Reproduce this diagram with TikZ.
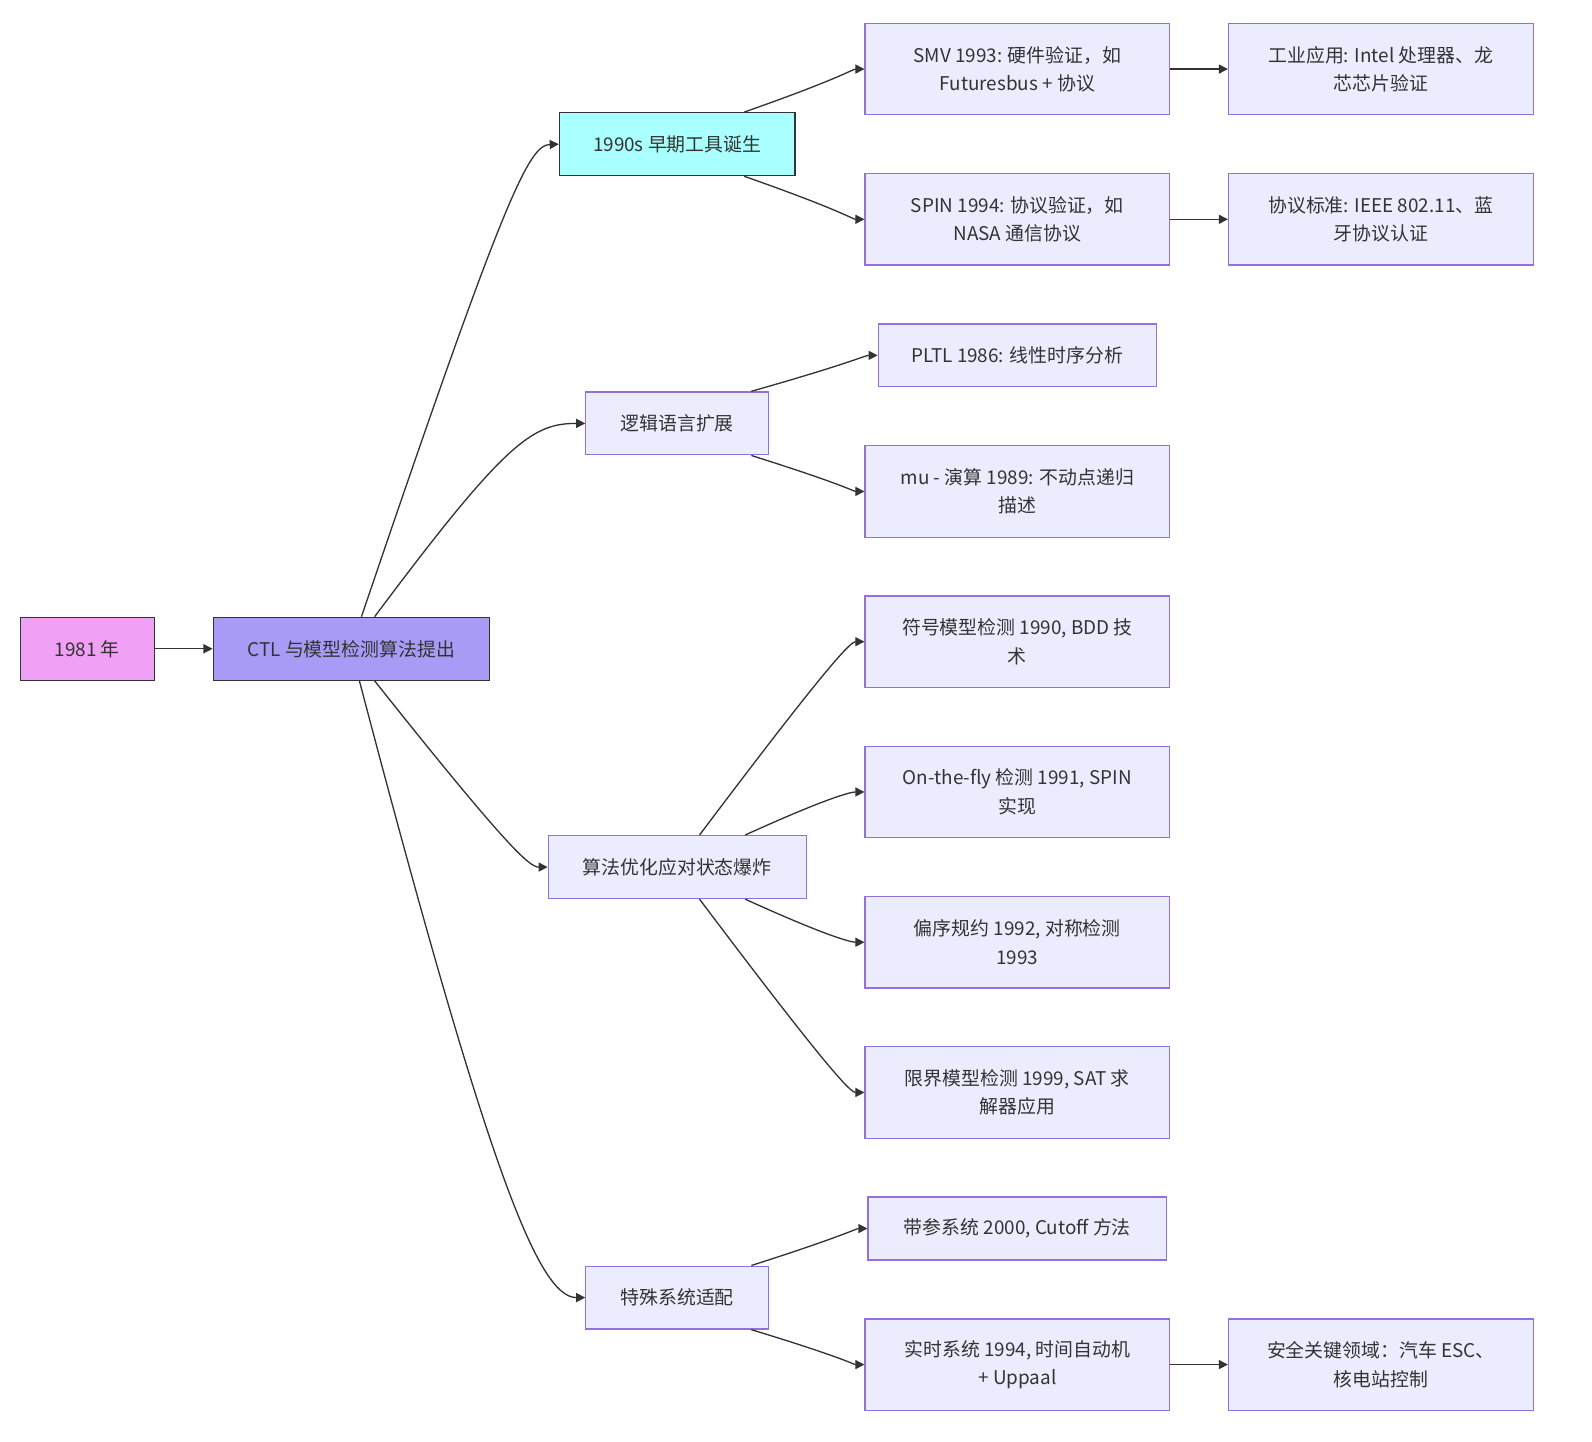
\documentclass[tikz,border=0pt]{standalone}
\usepackage{fontspec}
\setmainfont{Noto Sans CJK SC}
\usetikzlibrary{arrows.meta}

\definecolor{boxfill}{RGB}{236,236,255}
\definecolor{boxline}{RGB}{147,112,219}
\definecolor{ink}{RGB}{51,51,51}
\definecolor{pinkfill}{RGB}{240,160,245}
\definecolor{violetfill}{RGB}{167,155,246}
\definecolor{cyanfill}{RGB}{170,255,255}

\tikzset{
  box/.style={draw=boxline, fill=boxfill, line width=0.6pt, text=ink,
    font=\fontsize{9.3}{14}\selectfont, align=center, inner sep=0pt,
    minimum height=31pt},
  wbox/.style={box, minimum width=150pt, minimum height=45pt},
  keybox/.style={box, draw=ink},
  link/.style={draw=ink, line width=0.65pt, -{Triangle[length=4.5pt,width=4.5pt]}},
}

\begin{document}
\begin{tikzpicture}[x=0.5pt,y=0.5pt,yscale=-1,xscale=1]
\useasboundingbox (0,0) rectangle (1568,1420);

% Root and first step
\node [keybox, fill=pinkfill, minimum width=66pt] (year) at (86,639) {1981 年};
\node [keybox, fill=violetfill, minimum width=136pt] (ctl) at (346,639) {CTL 与模型检测算法提出};

% Branches
\node [keybox, fill=cyanfill, minimum width=116pt] (tools) at (667,142) {1990s 早期工具诞生};
\node [box, minimum width=90pt] (logic) at (667,417) {逻辑语言扩展};
\node [box, minimum width=127pt] (algo) at (667,854) {算法优化应对状态爆炸};
\node [box, minimum width=90pt] (special) at (667,1278) {特殊系统适配};

% Leaves: tools
\node [wbox] (smv) at (1002,68) {SMV 1993: 硬件验证，如\\Futuresbus + 协议};
\node [wbox] (industry) at (1360,68) {工业应用: Intel 处理器、龙\\芯芯片验证};
\node [wbox] (spin) at (1002,216) {SPIN 1994: 协议验证，如\\NASA 通信协议};
\node [wbox] (standard) at (1360,216) {协议标准: IEEE 802.11、蓝\\牙协议认证};

% Leaves: logic
\node [box, minimum width=137pt] (pltl) at (1002,350) {PLTL 1986: 线性时序分析};
\node [wbox] (mucalc) at (1002,484) {mu - 演算 1989: 不动点递归\\描述};

% Leaves: algorithms
\node [wbox] (symbolic) at (1002,632) {符号模型检测 1990, BDD 技\\术};
\node [wbox] (onthefly) at (1002,780) {On-the-fly 检测 1991, SPIN\\实现};
\node [wbox] (partial) at (1002,928) {偏序规约 1992, 对称检测\\1993};
\node [wbox] (bounded) at (1002,1076) {限界模型检测 1999, SAT 求\\解器应用};

% Leaves: special systems
\node [box, minimum width=147pt] (param) at (1002,1210) {带参系统 2000, Cutoff 方法};
\node [wbox] (realtime) at (1002,1344) {实时系统 1994, 时间自动机\\+ Uppaal};
\node [wbox] (safety) at (1360,1344) {安全关键领域：汽车 ESC、\\核电站控制};

% Straight links
\draw [link] (year.east) -- (ctl.west);
\draw [link] (smv.east) -- (industry.west);
\draw [link] (spin.east) -- (standard.west);
\draw [link] (realtime.east) -- (safety.west);

% Curved links from CTL
\draw [link] ([xshift=5pt]ctl.north) .. controls (498,189) and (521,143) .. (tools.west);
\draw [link] ([xshift=11.5pt]ctl.north) .. controls (497,436) and (524,417) .. (logic.west);
\draw [link] ([xshift=11.5pt]ctl.south) .. controls (502,838) and (522,854) .. (algo.west);
\draw [link] ([xshift=4pt]ctl.south) .. controls (480,1150) and (530,1278) .. (special.west);

% Curved links from branches
\draw [link] ([xshift=33pt]tools.north) .. controls (828,77) and (840,68) .. (smv.west);
\draw [link] ([xshift=33pt]tools.south) .. controls (828,207) and (840,216) .. (spin.west);
\draw [link] ([xshift=36.5pt]logic.north) .. controls (840,357) and (852,350) .. (pltl.west);
\draw [link] ([xshift=36.5pt]logic.south) .. controls (830,477) and (841,484) .. (mucalc.west);
\draw [link] ([xshift=11pt]algo.north) .. controls (818,651) and (838,632) .. (symbolic.west);
\draw [link] ([xshift=33.5pt]algo.north) .. controls (814,786) and (838,780) .. (onthefly.west);
\draw [link] ([xshift=33.5pt]algo.south) .. controls (814,922) and (838,928) .. (partial.west);
\draw [link] ([xshift=11pt]algo.south) .. controls (818,1057) and (838,1076) .. (bounded.west);
\draw [link] ([xshift=36.5pt]special.north) .. controls (832,1217) and (843,1210) .. (param.west);
\draw [link] ([xshift=36.5pt]special.south) .. controls (830,1337) and (841,1344) .. (realtime.west);

\end{tikzpicture}
\end{document}
